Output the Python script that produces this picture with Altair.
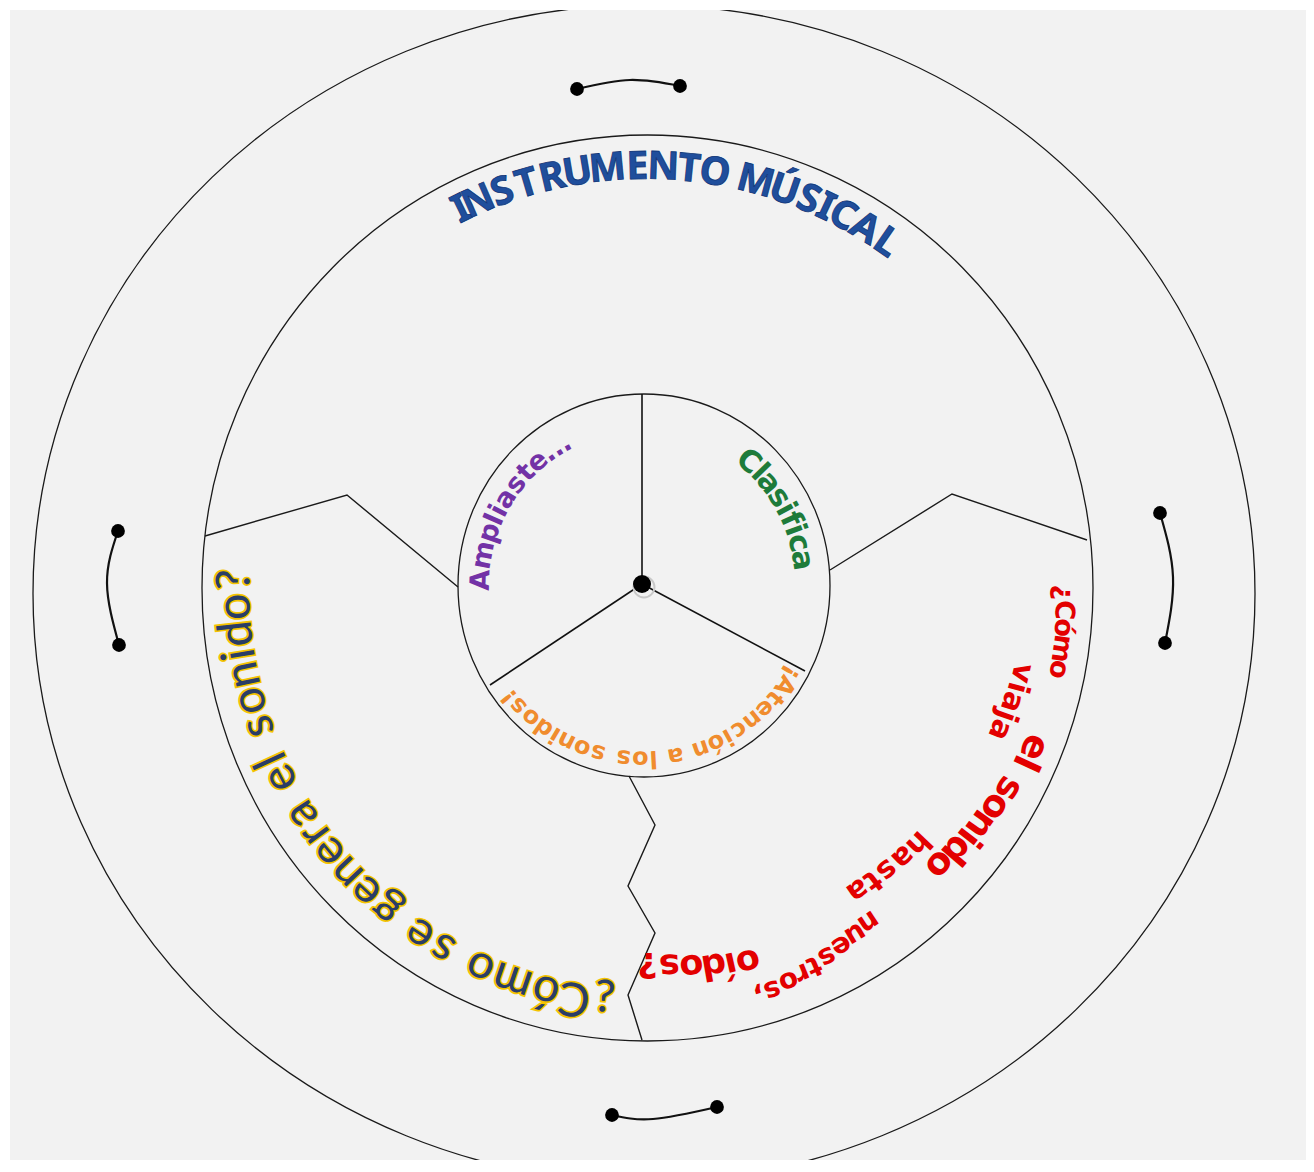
import math
import altair as alt
import pandas as pd

# ---------------- geometry of the diagram ----------------
W, H = 1296, 1150
X0, Y0 = 10, 10

ELL_NAME = ["outer", "middle", "inner"]
ELL_CX = [644, 647.5, 644]
ELL_CY = [593.5, 588, 585.5]
ELL_RX = [611, 445.5, 186]
ELL_RY = [588.5, 453, 191.5]

HUB = (642, 584)
SPOKE_END_X = [642, 490, 805]
SPOKE_END_Y = [394, 685, 671]

ZIG_NAME = ["left", "right", "bottom"]
ZIG_X = [[458, 347, 205], [830, 952, 1087], [629, 655, 628, 655, 628, 642]]
ZIG_Y = [[587, 495, 536], [570, 494, 540], [776, 825, 886, 933, 995, 1040]]

HANDLE_NAME = ["top", "left", "right", "bottom"]
HANDLE_X = [[577, 630, 680], [118, 107, 119], [1160, 1173, 1165], [612, 653, 717]]
HANDLE_Y = [[89, 80, 86], [531, 583, 645], [513, 577, 643], [1115, 1119, 1107]]

# ---------------- texts ----------------
TITLE = "INSTRUMENTO MÚSICAL"
TITLE_SPAN = (-26.2, 34.7)
TITLE_R = (422, 420)

INNER_TEXT = ["Ampliaste...", "Clasifica", "¡Atención a los sonidos!"]
INNER_SPAN = [(-88.1, -28.8), (40.2, 80.9), (120.5, 230.6)]
INNER_R = [(163, 163), (162, 160), (172, 174)]
INNER_COLOR = ["#7232a6", "#1e7b3a", "#f08c2e"]
INNER_SIZE = [27, 30, 24]
INNER_WEIGHT = ["bold", "bold", "bold"]

YELLOW_TEXT = "¿Cómo se genera el sonido?"
YELLOW_SPAN = (186.0, 271.1)
YELLOW_R = (416, 412)

RED_WORDS = ["¿Cómo", "viaja", "el sonido", "hasta", "nuestros,", "oídos?"]
RED_A0 = [90.6, 102.8, 112.4, 133.3, 146.5, 164.9]
RED_A1 = [101.2, 111.9, 133.4, 145.2, 164.7, 180.0]
RED_R0 = [416, 384, 418, 372, 400, 387]
RED_R1 = [419, 380, 402, 368, 423, 376]
RED_SIZE = [27, 30, 37, 30, 28, 35]

xs = alt.Scale(domain=[X0, X0 + W], nice=False, zero=False)
ys = alt.Scale(domain=[Y0, Y0 + H], nice=False, zero=False, reverse=True)


def cw(ch):
    if ch == " ":
        return 0.34
    if ch in "iljíI.,!¡":
        return 0.34
    if ch in "ftr":
        return 0.45
    if ch in "mM":
        return 0.98
    if ch.isupper():
        return 0.74
    return 0.62


def arc_chars(text, a0, a1, r0, r1, cx, cy, fs=None):
    w = [cw(c) for c in text]
    cum, s = [], 0.0
    for wi in w:
        cum.append(s + wi / 2)
        s += wi
    c0, c1 = cum[0], cum[-1]
    rows = []
    for ch, c in zip(text, cum):
        f = (c - c0) / (c1 - c0)
        if ch == " ":
            continue
        a = a0 + (a1 - a0) * f
        r = r0 + (r1 - r0) * f
        t = math.radians(a)
        row = dict(x=cx + r * math.sin(t), y=cy - r * math.cos(t), ch=ch, ang=a % 360)
        if fs is not None:
            row["fs"] = fs
        rows.append(row)
    return rows


def text_layer(rows, sized=False, **mk):
    enc = dict(
        x=alt.X("x:Q", scale=xs, axis=None),
        y=alt.Y("y:Q", scale=ys, axis=None),
        text=alt.Text("ch:N"),
        angle=alt.Angle("ang:Q", scale=None),
    )
    if sized:
        enc["size"] = alt.Size("fs:Q", scale=None, legend=None)
    return alt.Chart(pd.DataFrame(rows)).mark_text(align="center", baseline="middle", **mk).encode(**enc)


layers = []

# ellipses
for name, cx, cy, rx, ry in zip(ELL_NAME, ELL_CX, ELL_CY, ELL_RX, ELL_RY):
    k = ry / rx
    path = f"M-1,0A1,{k:.4f},0,1,1,1,0A1,{k:.4f},0,1,1,-1,0Z"
    layers.append(
        alt.Chart(pd.DataFrame({"x": [cx], "y": [cy], "n": [name]}))
        .mark_point(shape=path, size=(2 * rx) ** 2, filled=False, color="#1a1a1a",
                    strokeWidth=1.3, opacity=1, clip=True)
        .encode(x=alt.X("x:Q", scale=xs, axis=None), y=alt.Y("y:Q", scale=ys, axis=None))
    )

# spokes
spk = pd.DataFrame({"x": [HUB[0]] * 3, "y": [HUB[1]] * 3, "x2": SPOKE_END_X, "y2": SPOKE_END_Y})
layers.append(
    alt.Chart(spk).mark_rule(color="#111111", strokeWidth=1.6).encode(
        x=alt.X("x:Q", scale=xs, axis=None), y=alt.Y("y:Q", scale=ys, axis=None),
        x2="x2:Q", y2="y2:Q")
)

# zigzags
zr = []
for n, xl, yl in zip(ZIG_NAME, ZIG_X, ZIG_Y):
    for i, (x, y) in enumerate(zip(xl, yl)):
        zr.append(dict(g=n, i=i, x=x, y=y))
layers.append(
    alt.Chart(pd.DataFrame(zr)).mark_line(color="#1a1a1a", strokeWidth=1.4).encode(
        x=alt.X("x:Q", scale=xs, axis=None), y=alt.Y("y:Q", scale=ys, axis=None),
        detail="g:N", order="i:Q")
)

# handles
hr, hd = [], []
for n, xl, yl in zip(HANDLE_NAME, HANDLE_X, HANDLE_Y):
    for i, (x, y) in enumerate(zip(xl, yl)):
        hr.append(dict(g=n, i=i, x=x, y=y))
    hd.append(dict(x=xl[0], y=yl[0]))
    hd.append(dict(x=xl[-1], y=yl[-1]))
layers.append(
    alt.Chart(pd.DataFrame(hr)).mark_line(color="#111111", strokeWidth=2.2, interpolate="natural").encode(
        x=alt.X("x:Q", scale=xs, axis=None), y=alt.Y("y:Q", scale=ys, axis=None),
        detail="g:N", order="i:Q")
)
layers.append(
    alt.Chart(pd.DataFrame(hd)).mark_point(shape="circle", filled=True, size=190, color="#000000", opacity=1).encode(
        x=alt.X("x:Q", scale=xs, axis=None), y=alt.Y("y:Q", scale=ys, axis=None))
)

# hub
layers.append(
    alt.Chart(pd.DataFrame({"x": [HUB[0] + 2], "y": [HUB[1] + 3]})).mark_point(
        shape="circle", filled=False, size=440, color="#c8c8c8", strokeWidth=2, opacity=1).encode(
        x=alt.X("x:Q", scale=xs, axis=None), y=alt.Y("y:Q", scale=ys, axis=None))
)
layers.append(
    alt.Chart(pd.DataFrame({"x": [HUB[0]], "y": [HUB[1]]})).mark_point(
        shape="circle", filled=True, size=324, color="#000000", opacity=1).encode(
        x=alt.X("x:Q", scale=xs, axis=None), y=alt.Y("y:Q", scale=ys, axis=None))
)

# title
layers.append(text_layer(
    arc_chars(TITLE, TITLE_SPAN[0], TITLE_SPAN[1], TITLE_R[0], TITLE_R[1], ELL_CX[1], ELL_CY[1]),
    font="Noto Sans", fontSize=39, fontWeight="bold", color="#1f4e9c",
    stroke="#0f3577", strokeWidth=0.8))

# inner texts
for t, sp, rr, col, fs, fw in zip(INNER_TEXT, INNER_SPAN, INNER_R, INNER_COLOR, INNER_SIZE, INNER_WEIGHT):
    layers.append(text_layer(
        arc_chars(t, sp[0], sp[1], rr[0], rr[1], ELL_CX[2], ELL_CY[2]),
        font="DejaVu Sans", fontSize=fs, fontWeight=fw, color=col))

# yellow question
yrows = arc_chars(YELLOW_TEXT, YELLOW_SPAN[0], YELLOW_SPAN[1], YELLOW_R[0], YELLOW_R[1], ELL_CX[1], ELL_CY[1])
layers.append(text_layer(yrows, font="Lato", fontSize=47, color="#f5c400",
                         stroke="#f5c400", strokeWidth=3.4))
layers.append(text_layer(yrows, font="Lato", fontSize=47, color="#2a3d66"))

# red question
rrows = []
for wd, a0, a1, r0, r1, fs in zip(RED_WORDS, RED_A0, RED_A1, RED_R0, RED_R1, RED_SIZE):
    rrows += arc_chars(wd, a0, a1, r0, r1, ELL_CX[1], ELL_CY[1], fs=fs)
layers.append(text_layer(rrows, sized=True, font="DejaVu Sans", fontWeight="bold", color="#e30000"))

chart = (
    alt.layer(*layers)
    .properties(width=W, height=H, background="white",
                padding={"left": 2, "top": 2, "right": 0, "bottom": 0},
                autosize=alt.AutoSizeParams(type="none"))
    .configure_view(fill="#f2f2f2", stroke=None)
)

chart.save("out.html", embed_options={"renderer": "svg", "actions": False})
